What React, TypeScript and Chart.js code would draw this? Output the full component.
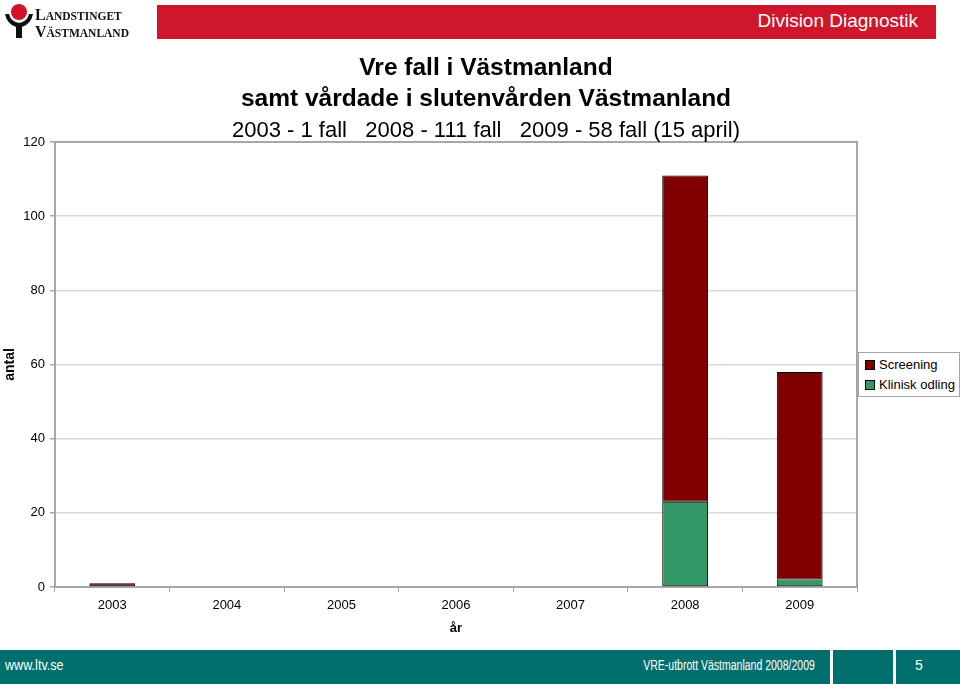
import React, { useEffect, useRef } from "react";
import { Chart, registerables } from "chart.js";

Chart.register(...registerables);

const years = ["2003", "2004", "2005", "2006", "2007", "2008", "2009"];
const klinisk = [0, 0, 0, 0, 0, 23, 2];
const screening = [1, 0, 0, 0, 0, 88, 56];
const yTicks = [0, 20, 40, 60, 80, 100, 120];

const FONT = "'Liberation Sans', Arial, Helvetica, sans-serif";

const plotBorder = {
  id: "plotBorder",
  afterDatasetsDraw(chart: any) {
    const { ctx, chartArea } = chart;
    ctx.save();
    ctx.strokeStyle = "#a6a6a6";
    ctx.lineWidth = 2;
    ctx.beginPath();
    ctx.moveTo(chartArea.left, chartArea.top);
    ctx.lineTo(chartArea.right, chartArea.top);
    ctx.lineTo(chartArea.right, chartArea.bottom);
    ctx.stroke();
    ctx.restore();
  },
};

export default function App() {
  const ref = useRef<HTMLCanvasElement>(null);

  useEffect(() => {
    if (!ref.current) return;
    const chart = new Chart(ref.current, {
      type: "bar",
      data: {
        labels: years,
        datasets: [
          {
            label: "Klinisk odling",
            data: klinisk,
            backgroundColor: "#339966",
            borderColor: "#000000",
            borderWidth: 1,
            borderSkipped: false,
          },
          {
            label: "Screening",
            data: screening,
            backgroundColor: "#800000",
            borderColor: "#000000",
            borderWidth: 1,
            borderSkipped: false,
          },
        ],
      },
      options: {
        animation: false,
        responsive: false,
        maintainAspectRatio: false,
        layout: { padding: { top: 142, right: 103, left: 0, bottom: 0 } },
        datasets: { bar: { categoryPercentage: 1, barPercentage: 0.4 } },
        plugins: {
          legend: { display: false },
          tooltip: { enabled: false },
          title: { display: false },
        },
        scales: {
          x: {
            stacked: true,
            offset: true,
            afterFit: (s: any) => {
              s.height = 97;
            },
            grid: {
              offset: true,
              drawOnChartArea: false,
              drawTicks: true,
              tickLength: 5,
              color: "#a6a6a6",
            },
            border: { color: "#a6a6a6", width: 2 },
            ticks: {
              color: "#000",
              padding: 6,
              font: { family: FONT, size: 13 },
              maxRotation: 0,
            },
            title: {
              display: true,
              text: "år",
              color: "#000",
              font: { family: FONT, size: 13, weight: "bold" },
              padding: { top: 0, bottom: 48 },
            },
          },
          y: {
            stacked: true,
            min: 0,
            max: 120,
            afterFit: (s: any) => {
              s.width = 55;
            },
            afterBuildTicks: (s: any) => {
              s.ticks = yTicks.map((v) => ({ value: v }));
            },
            grid: {
              color: "#d9d9d9",
              lineWidth: 1.5,
              drawTicks: true,
              tickLength: 5,
              tickColor: "#a6a6a6",
            },
            border: { color: "#a6a6a6", width: 2 },
            ticks: {
              color: "#000",
              padding: 5,
              font: { family: FONT, size: 13 },
            },
            title: {
              display: true,
              text: "antal",
              color: "#000",
              font: { family: FONT, size: 14, weight: "bold" },
              padding: { top: 2, bottom: 0 },
            },
          },
        },
      },
      plugins: [plotBorder],
    });
    return () => chart.destroy();
  }, []);

  const narrow = "'Liberation Sans Narrow', 'Arial Narrow', " + FONT;

  return (
    <div
      style={{
        position: "fixed",
        left: 0,
        top: 0,
        width: 960,
        height: 684,
        background: "#fff",
        fontFamily: FONT,
        overflow: "hidden",
      }}
    >
      <canvas
        ref={ref}
        width={960}
        height={684}
        style={{ position: "absolute", left: 0, top: 0, width: 960, height: 684 }}
      />
      {/* Logo */}
      <svg
        width={34}
        height={40}
        style={{ position: "absolute", left: 2, top: 2 }}
        viewBox="0 0 34 40"
      >
        <circle cx={17} cy={10} r={8} fill="#d0152a" />
        <path
          d="M3 12 Q5 22 14 25 L14 36 L20 36 L20 25 Q29 22 31 12 L27 12 Q25 20 17 21 Q9 20 7 12 Z"
          fill="#111"
        />
      </svg>
      <div
        style={{
          position: "absolute",
          left: 35,
          top: 7,
          fontFamily: "'Liberation Serif', 'DejaVu Serif', serif",
          color: "#111",
          fontSize: 11.5,
          lineHeight: "15px",
          letterSpacing: 0,
          fontWeight: "bold",
        }}
      >
        <div>
          <span style={{ fontSize: 16 }}>L</span>ANDSTINGET
        </div>
        <div>
          <span style={{ fontSize: 16 }}>V</span>ÄSTMANLAND
        </div>
      </div>
      {/* Red header bar */}
      <div
        style={{
          position: "absolute",
          left: 157,
          top: 5,
          width: 779,
          height: 34,
          background: "#cf162b",
        }}
      />
      <div
        style={{
          position: "absolute",
          right: 42,
          top: 10,
          color: "#fff",
          fontSize: 19,
          lineHeight: "22px",
        }}
      >
        Division Diagnostik
      </div>
      {/* Title */}
      <div
        style={{
          position: "absolute",
          left: 0,
          top: 51,
          width: 972,
          textAlign: "center",
          color: "#000",
        }}
      >
        <div style={{ fontSize: 24.5, fontWeight: "bold", lineHeight: "31px" }}>
          Vre fall i Västmanland
        </div>
        <div style={{ fontSize: 24.5, fontWeight: "bold", lineHeight: "31px" }}>
          samt vårdade i slutenvården Västmanland
        </div>
        <div style={{ fontSize: 22, lineHeight: "34px", whiteSpace: "pre" }}>
          {"2003 - 1 fall   2008 - 111 fall   2009 - 58 fall (15 april)"}
        </div>
      </div>
      {/* Legend */}
      <div
        style={{
          position: "absolute",
          left: 858,
          top: 352,
          width: 100,
          height: 43,
          border: "1px solid #a6a6a6",
          background: "#fff",
          fontSize: 13,
          color: "#000",
        }}
      >
        <div style={{ position: "absolute", left: 6, top: 4, display: "flex", alignItems: "center" }}>
          <span
            style={{
              display: "inline-block",
              width: 8,
              height: 8,
              background: "#800000",
              border: "1px solid #000",
              marginRight: 4,
            }}
          />
          <span style={{ lineHeight: "15px" }}>Screening</span>
        </div>
        <div style={{ position: "absolute", left: 6, top: 24, display: "flex", alignItems: "center" }}>
          <span
            style={{
              display: "inline-block",
              width: 8,
              height: 8,
              background: "#339966",
              border: "1px solid #000",
              marginRight: 4,
            }}
          />
          <span style={{ lineHeight: "15px" }}>Klinisk odling</span>
        </div>
      </div>
      {/* Footer */}
      <div
        style={{
          position: "absolute",
          left: 0,
          top: 650,
          width: 960,
          height: 34,
          background: "#006f6d",
        }}
      />
      <div
        style={{
          position: "absolute",
          left: 830,
          top: 650,
          width: 3,
          height: 34,
          background: "#fff",
        }}
      />
      <div
        style={{
          position: "absolute",
          left: 893,
          top: 650,
          width: 3,
          height: 34,
          background: "#fff",
        }}
      />
      <div
        style={{
          position: "absolute",
          left: 5,
          top: 657,
          color: "#fff",
          fontSize: 14,
          lineHeight: "17px",
          fontFamily: narrow,
          transform: "scaleX(0.9)",
          transformOrigin: "left center",
        }}
      >
        www.ltv.se
      </div>
      <div
        style={{
          position: "absolute",
          right: 145,
          top: 657,
          color: "#fff",
          fontSize: 14,
          lineHeight: "17px",
          fontFamily: narrow,
          whiteSpace: "nowrap",
          transform: "scaleX(0.75)",
          transformOrigin: "right center",
        }}
      >
        VRE-utbrott Västmanland 2008/2009
      </div>
      <div
        style={{
          position: "absolute",
          left: 915,
          top: 657,
          color: "#fff",
          fontSize: 14,
          lineHeight: "17px",
          fontFamily: narrow,
        }}
      >
        5
      </div>
    </div>
  );
}
